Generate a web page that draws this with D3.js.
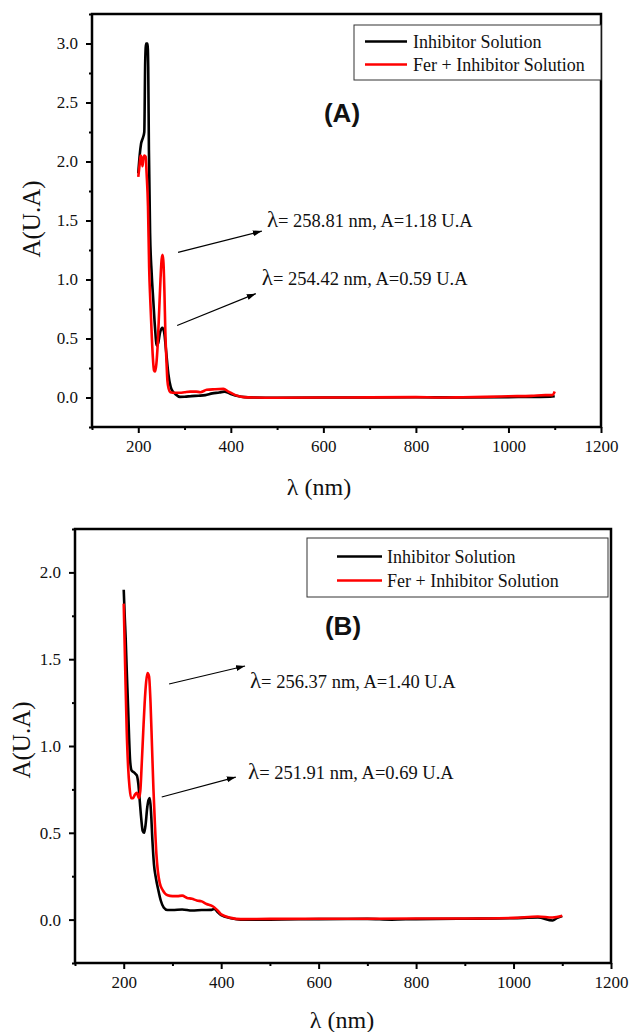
<!DOCTYPE html>
<html>
<head>
<meta charset="utf-8">
<script src="https://cdnjs.cloudflare.com/ajax/libs/d3/7.8.5/d3.min.js"></script>
<style>
body { margin: 0; background: #fff; }
svg text { font-family: "Liberation Serif", "Times New Roman", Times, serif; fill: #111; }
</style>
</head>
<body>
<svg id="chart" width="630" height="1032"></svg>
<script>
const svg = d3.select('#chart')
const black = '#000000'
const red = '#ff0000'
const serif = '"Liberation Serif", "Times New Roman", Times, serif'

const seriesNames = ['Inhibitor Solution', 'Fer + Inhibitor Solution']
const xTicks = [200, 400, 600, 800, 1000, 1200]
const xMinor = [100, 300, 500, 700, 900, 1100]
const aYTicks = [0, 0.5, 1.0, 1.5, 2.0, 2.5, 3.0]
const aYMinor = [-0.25, 0.25, 0.75, 1.25, 1.75, 2.25, 2.75, 3.25]
const bYTicks = [0, 0.5, 1.0, 1.5, 2.0]
const bYMinor = [-0.25, 0.25, 0.75, 1.25, 1.75, 2.25]

// panel A, [nm, absorbance]
const aInhibitor = [
	[200, 1.90], [203, 2.05], [206, 2.15], [210, 2.20], [213, 2.25], [215, 2.85], [217, 3.00],
	[220, 3.00], [221.5, 2.80], [223, 2.10], [225.5, 1.40], [229, 1.05], [232.5, 0.82],
	[236, 0.60], [240, 0.44], [243, 0.46], [247, 0.55], [252, 0.59], [256, 0.55], [260, 0.40],
	[265, 0.20], [270, 0.09], [275, 0.05], [280, 0.03], [290, 0.005], [300, 0.006],
	[315, 0.012], [330, 0.015], [345, 0.02], [360, 0.035], [375, 0.042], [386, 0.05],
	[400, 0.03], [415, 0.012], [430, 0.003], [450, 0.0], [500, -0.002], [600, 0.0],
	[700, 0.0], [800, 0.002], [900, 0.0], [1000, 0.003], [1050, 0.005], [1090, 0.006], [1100, 0.01]
]
const aFer = [
	[200, 1.87], [203, 1.98], [205, 2.05], [207, 2.03], [209, 1.96], [211, 2.02], [213, 2.05],
	[216, 2.04], [218, 1.90], [221, 1.62], [223.5, 1.10], [226, 0.82], [229, 0.54],
	[231.5, 0.34], [234, 0.23], [236.5, 0.22], [239, 0.28], [242, 0.45], [245, 0.72],
	[248, 1.00], [250.5, 1.17], [252.5, 1.21], [254.5, 1.14], [256.5, 0.90], [258.5, 0.56],
	[261, 0.30], [263, 0.14], [266, 0.07], [269, 0.045], [280, 0.04], [290, 0.04],
	[300, 0.045], [312, 0.05], [325, 0.05], [334, 0.045], [348, 0.065], [365, 0.07],
	[384, 0.073], [395, 0.05], [410, 0.02], [428, 0.003], [450, 0.0], [500, -0.002],
	[600, 0.0], [700, 0.001], [800, 0.003], [850, 0.0], [900, 0.002], [950, 0.005],
	[1000, 0.01], [1050, 0.014], [1080, 0.02], [1095, 0.02], [1100, 0.05]
]

// panel B, [nm, absorbance]
const bInhibitor = [
	[200, 1.90], [202, 1.75], [204, 1.62], [206, 1.45], [209, 1.22], [211, 1.05], [213, 0.92],
	[216, 0.86], [220, 0.85], [224, 0.84], [227, 0.83], [230, 0.78], [233, 0.68],
	[236, 0.58], [239, 0.51], [242, 0.50], [245, 0.55], [248, 0.64], [251, 0.69],
	[253.5, 0.70], [256, 0.62], [259, 0.45], [262, 0.32], [266, 0.24], [271, 0.17],
	[276, 0.11], [282, 0.07], [290, 0.055], [300, 0.055], [320, 0.058], [340, 0.052],
	[360, 0.055], [380, 0.056], [386, 0.062], [392, 0.045], [400, 0.025], [420, 0.008],
	[440, 0.0], [500, 0.0], [600, 0.003], [700, 0.004], [750, 0.0], [800, 0.003],
	[900, 0.005], [1000, 0.008], [1050, 0.012], [1080, -0.005], [1090, 0.01], [1100, 0.02]
]
const bFer = [
	[200, 1.82], [203, 1.45], [206, 1.10], [209, 0.88], [212, 0.76], [215, 0.70], [219, 0.70],
	[223, 0.72], [227, 0.73], [231, 0.70], [234, 0.74], [237, 0.90], [240, 1.08],
	[243, 1.25], [246, 1.37], [249, 1.42], [252, 1.40], [255, 1.25], [258, 1.00],
	[261, 0.75], [264, 0.55], [267, 0.38], [270, 0.28], [274, 0.21], [280, 0.17],
	[290, 0.14], [300, 0.135], [310, 0.135], [320, 0.138], [330, 0.125], [340, 0.12],
	[350, 0.11], [360, 0.105], [370, 0.09], [380, 0.08], [386, 0.07], [392, 0.055],
	[400, 0.03], [420, 0.01], [440, 0.003], [500, 0.004], [600, 0.005], [700, 0.005],
	[800, 0.006], [900, 0.006], [1000, 0.01], [1050, 0.018], [1080, 0.012], [1100, 0.022]
]

// annotations: arrow start, arrow end, text anchor (data units)
const aNotes = [
	{ from: [286, 1.23], to: [467, 1.41], at: [478, 1.445], label: '= 258.81 nm, A=1.18 U.A' },
	{ from: [284, 0.61], to: [454, 0.88], at: [467, 0.953], label: '= 254.42 nm, A=0.59 U.A' }
]
const bNotes = [
	{ from: [293, 1.357], to: [449, 1.461], at: [459, 1.334], label: '= 256.37 nm, A=1.40 U.A' },
	{ from: [278, 0.706], to: [430, 0.821], at: [455, 0.81], label: '= 251.91 nm, A=0.69 U.A' }
]

const panels = [
	{ tag: '(A)', left: 92, top: 14, right: 601, bottom: 427, yDomain: [-0.25, 3.25],
	  yTicks: aYTicks, yMinor: aYMinor, series: [aInhibitor, aFer], notes: aNotes,
	  legend: { x: 354, y: 25, w: 247, h: 55, l1: 11, l2: 53, tx: 59, rows: [16.5, 39.5] },
	  tagPos: [342, 122], xTitle: [319, 495], yTitle: [40, 219] },
	{ tag: '(B)', left: 75, top: 529, right: 611, bottom: 963, yDomain: [-0.25, 2.25],
	  yTicks: bYTicks, yMinor: bYMinor, series: [bInhibitor, bFer], notes: bNotes,
	  legend: { x: 307, y: 538, w: 301, h: 59, l1: 30, l2: 75, tx: 80, rows: [18.5, 42.5] },
	  tagPos: [343, 635], xTitle: [342, 1028], yTitle: [30, 740] }
]

svg.append('defs')
	.append('marker')
		.attr('id', 'arrow')
		.attr('markerUnits', 'userSpaceOnUse')
		.attr('markerWidth', 10)
		.attr('markerHeight', 8)
		.attr('refX', 9)
		.attr('refY', 3)
		.attr('orient', 'auto')
		.append('path')
		.attr('d', 'M 0 0 L 9 3 L 0 6 Z')
		.style('fill', black)

panels.forEach(p => {
	const g = svg.append('g')

	const xScale = d3.scaleLinear()
		.domain([100, 1200])
		.range([p.left, p.right])

	const yScale = d3.scaleLinear()
		.domain(p.yDomain)
		.range([p.bottom, p.top])

	const line = d3.line()
		.x(d => xScale(d[0]))
		.y(d => yScale(d[1]))
		.curve(d3.curveMonotoneX)

	// spectra, red drawn over black
	const colors = [black, red]
	p.series.forEach((s, i) => {
		g.append('path')
			.datum(s)
			.attr('d', line)
			.attr('fill', 'none')
			.attr('stroke', colors[i])
			.attr('stroke-width', 2.6)
			.attr('stroke-linejoin', 'round')
	})

	// axes
	const xAxis = d3.axisBottom(xScale)
		.tickValues(xTicks)
		.tickSize(6)
		.tickSizeOuter(0)
		.tickPadding(7)
		.tickFormat(d3.format('d'))
	const xMinorAxis = d3.axisBottom(xScale)
		.tickValues(xMinor)
		.tickSize(3)
		.tickSizeOuter(0)
		.tickFormat('')
	const yAxis = d3.axisLeft(yScale)
		.tickValues(p.yTicks)
		.tickSize(6)
		.tickSizeOuter(0)
		.tickPadding(8)
		.tickFormat(d3.format('.1f'))
	const yMinorAxis = d3.axisLeft(yScale)
		.tickValues(p.yMinor)
		.tickSize(3)
		.tickSizeOuter(0)
		.tickFormat('')

	g.append('g').attr('transform', `translate(0, ${p.bottom})`).call(xAxis)
	g.append('g').attr('transform', `translate(0, ${p.bottom})`).call(xMinorAxis)
	g.append('g').attr('transform', `translate(${p.left}, 0)`).call(yAxis)
	g.append('g').attr('transform', `translate(${p.left}, 0)`).call(yMinorAxis)

	g.selectAll('.tick line')
		.style('stroke', black)
		.style('stroke-width', 2)
	g.selectAll('path.domain')
		.style('stroke-width', 0)
	g.selectAll('.tick text')
		.style('font-family', serif)
		.style('font-size', '17px')
		.style('fill', '#111')

	// frame
	g.append('rect')
		.attr('x', p.left)
		.attr('y', p.top)
		.attr('width', p.right - p.left)
		.attr('height', p.bottom - p.top)
		.attr('fill', 'none')
		.attr('stroke', black)
		.attr('stroke-width', 2.5)

	// titles
	g.append('text')
		.attr('text-anchor', 'middle')
		.attr('x', p.xTitle[0])
		.attr('y', p.xTitle[1])
		.style('font-family', serif)
		.style('font-size', '24px')
		.text('λ (nm)')

	g.append('text')
		.attr('text-anchor', 'middle')
		.attr('transform', `translate(${p.yTitle[0]}, ${p.yTitle[1]}) rotate(-90)`)
		.style('font-family', serif)
		.style('font-size', '25px')
		.text('A(U.A)')

	g.append('text')
		.attr('text-anchor', 'middle')
		.attr('x', p.tagPos[0])
		.attr('y', p.tagPos[1])
		.style('font-family', '"Liberation Sans", Arial, sans-serif')
		.style('font-weight', 'bold')
		.style('font-size', '26px')
		.text(p.tag)

	// legend
	const L = p.legend
	const lg = g.append('g')
		.attr('transform', `translate(${L.x}, ${L.y})`)
	lg.append('rect')
		.attr('width', L.w)
		.attr('height', L.h)
		.attr('fill', '#fff')
		.attr('stroke', '#333')
		.attr('stroke-width', 1)
	seriesNames.forEach((name, i) => {
		const yy = L.rows[i]
		lg.append('line')
			.attr('x1', L.l1)
			.attr('x2', L.l2)
			.attr('y1', yy)
			.attr('y2', yy)
			.attr('stroke', colors[i])
			.attr('stroke-width', 2.6)
		lg.append('text')
			.attr('x', L.tx)
			.attr('y', yy + 6)
			.style('font-family', serif)
			.style('font-size', '18px')
			.text(name)
	})

	// annotations
	p.notes.forEach(n => {
		g.append('line')
			.attr('x1', xScale(n.from[0]))
			.attr('y1', yScale(n.from[1]))
			.attr('x2', xScale(n.to[0]))
			.attr('y2', yScale(n.to[1]))
			.attr('stroke', black)
			.attr('stroke-width', 1.2)
			.attr('marker-end', 'url(#arrow)')
		const t = g.append('text')
			.attr('x', xScale(n.at[0]))
			.attr('y', yScale(n.at[1]))
			.style('font-family', serif)
			.style('font-size', '18.5px')
		t.append('tspan')
			.style('font-size', '23px')
			.text('λ')
		t.append('tspan')
			.text(n.label)
	})
})
</script>
</body>
</html>
